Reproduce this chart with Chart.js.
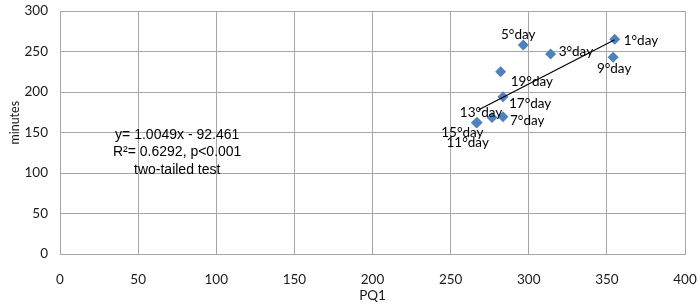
<!DOCTYPE html>
<html>
<head>
<meta charset="utf-8">
<script src="https://cdn.jsdelivr.net/npm/chart.js@4/dist/chart.umd.min.js"></script>
<style>
  html, body { margin: 0; padding: 0; background: #fff; }
  #wrap { width: 700px; height: 308px; }
</style>
</head>
<body>
<div id="wrap"><canvas id="scatter-chart"></canvas></div>
<script>
// values
var dayLabels = ["1°day", "3°day", "5°day", "7°day", "9°day", "11°day", "13°day", "15°day", "17°day", "19°day"];
var pq1Values = [355, 314, 296.5, 283.5, 354, 267, 276.5, 266.5, 283.5, 282];
var minuteValues = [265, 247, 258, 169.5, 243, 162.5, 168.5, 162, 194, 225];
var trendX = [268, 355];
var trendY = [178, 264.5];
var xTicks = [0, 50, 100, 150, 200, 250, 300, 350, 400];
var yTicks = [0, 50, 100, 150, 200, 250, 300];
var noteLines = ["y= 1.0049x - 92.461", "R²= 0.6292, p<0.001", "two-tailed test"];

// where each day label sits relative to its marker (px), and how it is aligned
var labelPlace = [
  { dx: 9, dy: 1, align: 'left' },
  { dx: 8, dy: -2, align: 'left' },
  { dx: -5, dy: -10, align: 'center' },
  { dx: 7, dy: 4, align: 'left' },
  { dx: 1, dy: 11, align: 'center' },
  { dx: -9.5, dy: 20, align: 'center' },
  { dx: -11, dy: -5, align: 'center' },
  { dx: -14, dy: 10, align: 'center' },
  { dx: 6, dy: 7, align: 'left' },
  { dx: 10, dy: 10, align: 'left' }
];

var points = pq1Values.map(function(v, i) { return { x: v, y: minuteValues[i] }; });
var trend = trendX.map(function(v, i) { return { x: v, y: trendY[i] }; });

var tickFont = { family: 'Lato', size: 13.5 };

var dayLabelPlugin = {
  id: 'dayLabels',
  afterDatasetsDraw: function(chart) {
    var ctx = chart.ctx;
    var meta = chart.getDatasetMeta(1);
    ctx.save();
    ctx.font = '13.5px Lato';
    ctx.fillStyle = '#000';
    ctx.textBaseline = 'middle';
    meta.data.forEach(function(pt, i) {
      var p = labelPlace[i];
      ctx.textAlign = p.align;
      ctx.fillText(dayLabels[i], pt.x + p.dx, pt.y + p.dy);
    });
    // regression note
    var xs = chart.scales.x, ys = chart.scales.y;
    var cx = xs.getPixelForValue(75);
    var cy = ys.getPixelForValue(147);
    ctx.font = '14px "Liberation Sans"';
    ctx.textAlign = 'center';
    noteLines.forEach(function(line, i) {
      ctx.fillText(line, cx, cy + i * 17.5);
    });
    // y axis title
    ctx.translate(15, ys.getPixelForValue(162));
    ctx.rotate(-Math.PI / 2);
    ctx.font = '12.5px Lato';
    ctx.fillStyle = '#1a1a1a';
    ctx.fillText('minutes', 0, 0);
    ctx.restore();
  }
};

new Chart(document.getElementById("scatter-chart"), {
  type: 'scatter',
  data: {
    datasets: [{
        type: 'line',
        data: trend,
        borderColor: '#000',
        borderWidth: 1.2,
        pointRadius: 0,
        fill: false
      }, {
        data: points,
        pointStyle: 'rectRot',
        pointRadius: 5.5,
        pointHoverRadius: 5.5,
        backgroundColor: '#4F81BD',
        borderColor: '#4F81BD',
        borderWidth: 0
      }]
  },
  options: {
    responsive: true,
    maintainAspectRatio: false,
    animation: false,
    events: [],
    layout: {
      padding: { top: 11, right: 15, left: 0, bottom: 0 }
    },
    plugins: {
      legend: { display: false },
      tooltip: { enabled: false }
    },
    scales: {
      x: {
        type: 'linear',
        min: 0,
        max: 400,
        afterBuildTicks: function(s) { s.ticks = xTicks.map(function(v) { return { value: v }; }); },
        ticks: { color: '#1a1a1a', font: tickFont, padding: 18, maxRotation: 0 },
        grid: { color: '#a6a6a6', drawTicks: false, lineWidth: 1 },
        border: { color: '#a6a6a6' },
        title: { display: true, text: 'PQ1', color: '#1a1a1a', font: tickFont, padding: { top: 2, bottom: 4 } },
        afterFit: function(s) { s.height = 54; s.paddingLeft = 0; s.paddingRight = 0; }
      },
      y: {
        min: 0,
        max: 300,
        afterBuildTicks: function(s) { s.ticks = yTicks.map(function(v) { return { value: v }; }); },
        ticks: { color: '#1a1a1a', font: tickFont, padding: 12 },
        grid: { color: '#a6a6a6', drawTicks: false, lineWidth: 1 },
        border: { color: '#a6a6a6' },
        title: { display: false, text: 'minutes' },
        afterFit: function(s) { s.width = 60; s.paddingTop = 0; s.paddingBottom = 0; }
      }
    }
  },
  plugins: [dayLabelPlugin]
});
</script>
</body>
</html>
